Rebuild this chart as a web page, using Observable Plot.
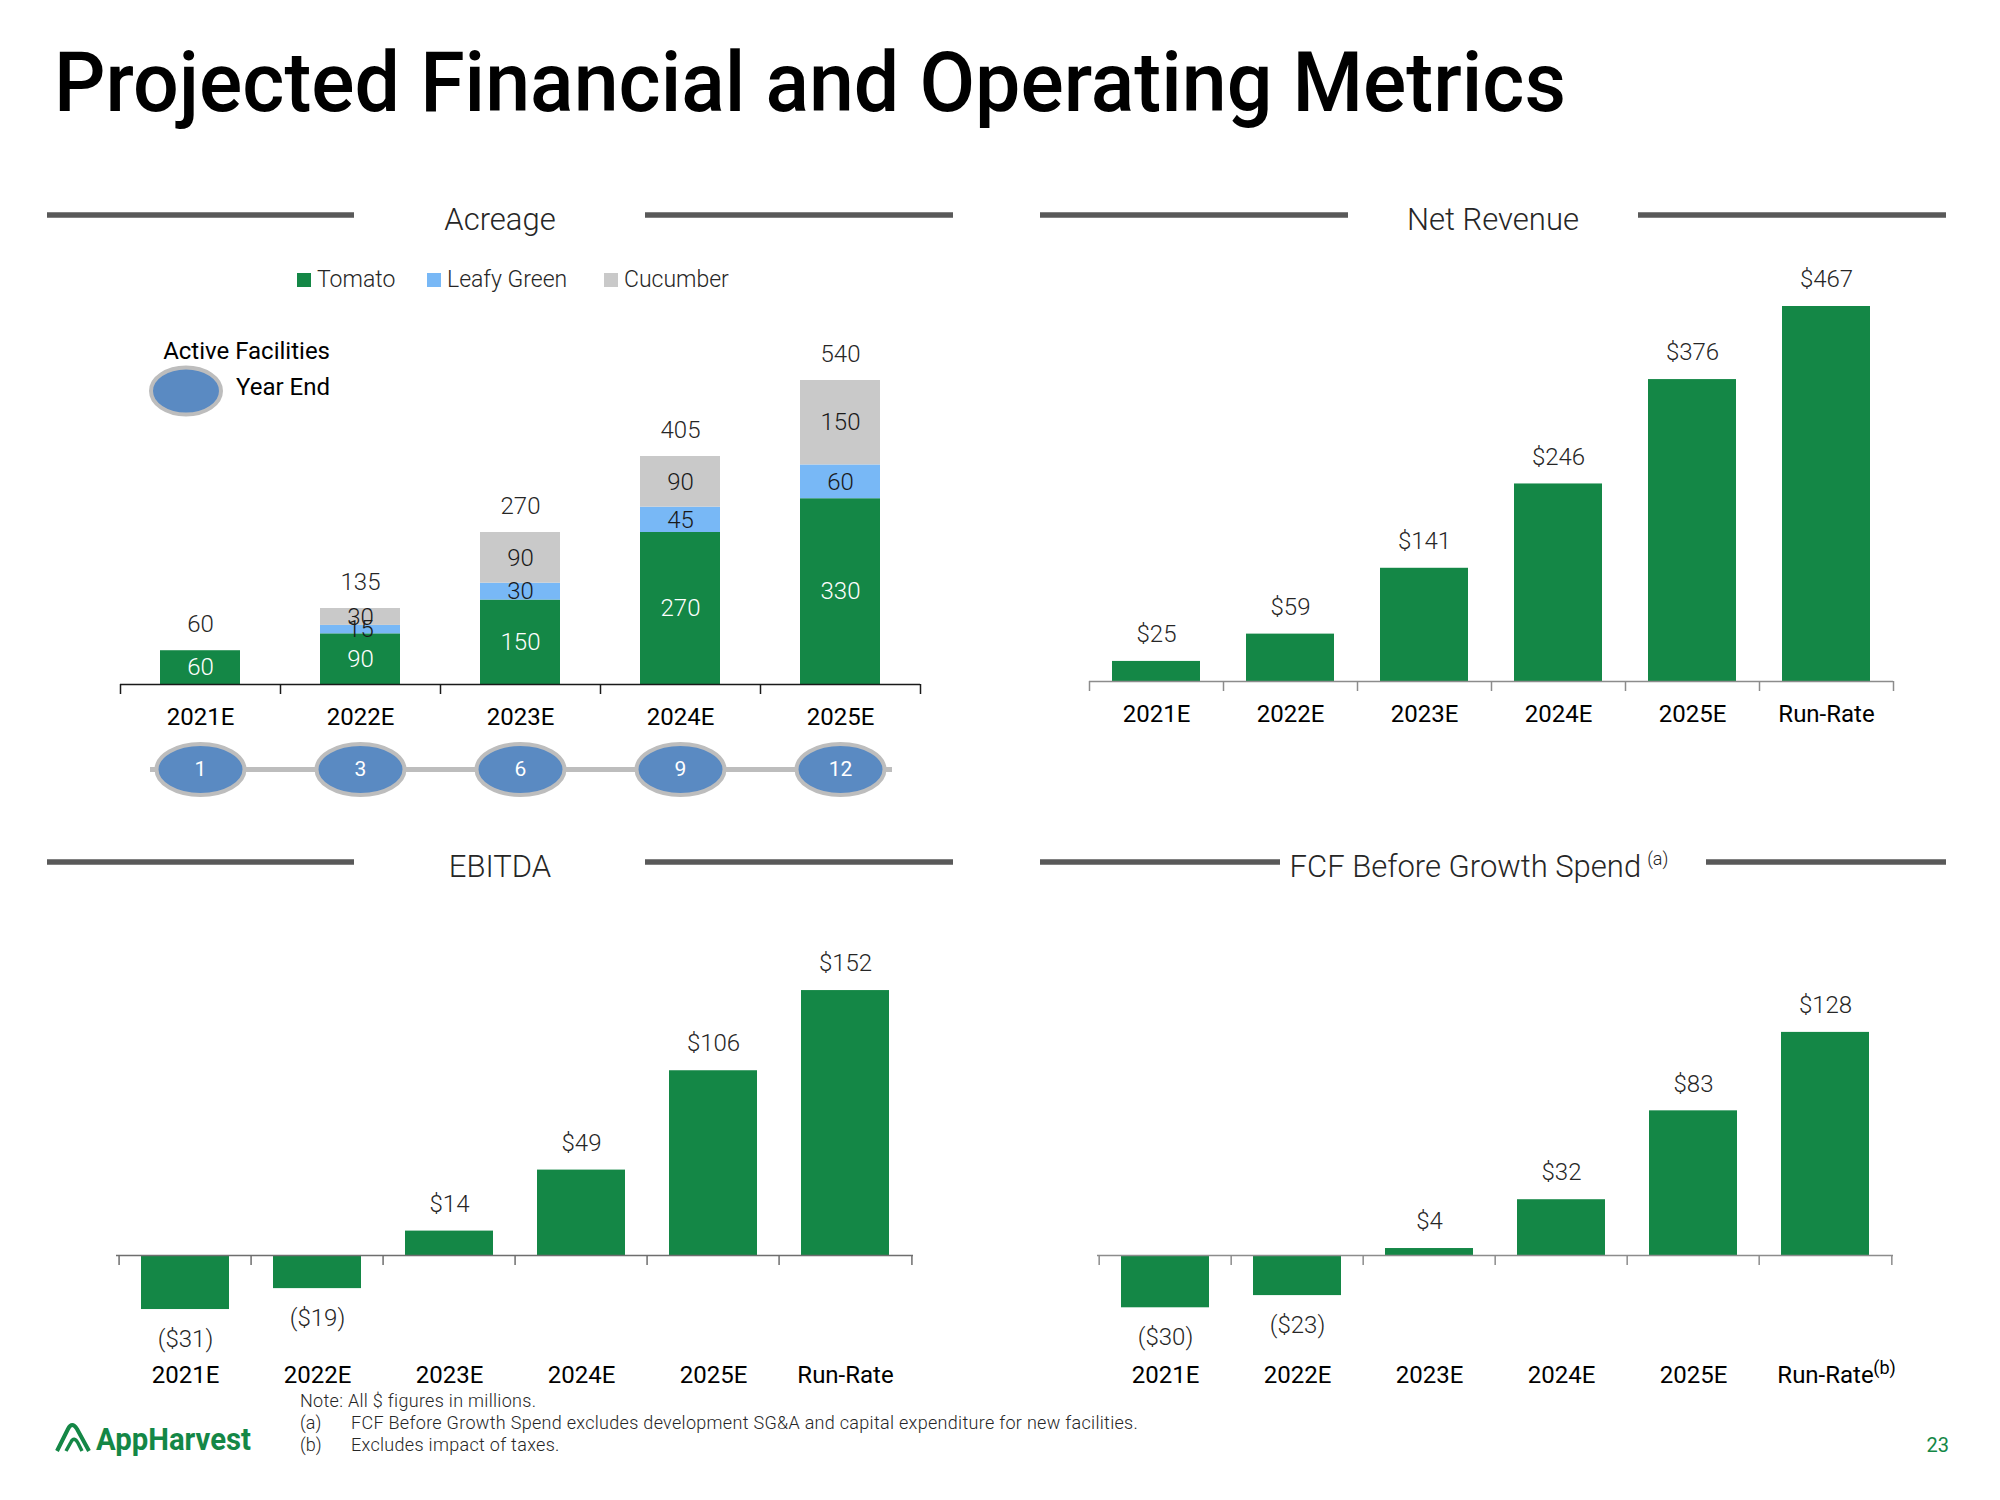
<!DOCTYPE html>
<html><head><meta charset="utf-8">
<script src="https://cdn.jsdelivr.net/npm/d3@7"></script>
<script src="https://cdn.jsdelivr.net/npm/@observablehq/plot@0.6"></script>
<style>
html,body{margin:0;padding:0;background:#fff}
#page{position:relative;width:2000px;height:1500px;overflow:hidden;font-family:Roboto,"Noto Sans",sans-serif;background:#fff}
.chart{position:absolute}
#deco{position:absolute;left:0;top:0}
</style></head>
<body><div id="page">
<div class="chart" id="acreage" style="left:0;top:240px;width:1000px"></div>
<div class="chart" id="revenue" style="left:1000px;top:240px;width:1000px"></div>
<div class="chart" id="ebitda" style="left:0;top:900px;width:1000px"></div>
<div class="chart" id="fcf" style="left:1000px;top:900px;width:1000px"></div>
<svg id="deco" width="2000" height="1500" font-family="Roboto, sans-serif"></svg>
</div>
<script>
// ---------- data ----------
const years = ["2021E", "2022E", "2023E", "2024E", "2025E"];
const crops = ["Tomato", "Leafy Green", "Cucumber"];
const tomato = [60, 90, 150, 270, 330];
const leafyGreen = [0, 15, 30, 45, 60];
const cucumber = [0, 30, 90, 90, 150];
const acreageTotals = [60, 135, 270, 405, 540];
const activeFacilities = [1, 3, 6, 9, 12];

const periods = ["2021E", "2022E", "2023E", "2024E", "2025E", "Run-Rate"];
const netRevenue = [25, 59, 141, 246, 376, 467];
const ebitda = [-31, -19, 14, 49, 106, 152];
const fcfBeforeGrowth = [-30, -23, 4, 32, 83, 128];

// ---------- styles ----------
const GREEN = "#148746";
const cropColors = ["#148746", "#78B8F6", "#C9C9C9"];
const ELLIPSE_FILL = "#5A8AC2";
const ELLIPSE_STROKE = "#BDBDBD";
const LABEL = "#262626";

const fmt = v => v < 0 ? `($${-v})` : `$${v}`;

const ellipseSymbol = {
  draw(ctx) {
    const rx = 44, ry = 25.5, k = 0.5523;
    ctx.moveTo(rx, 0);
    ctx.bezierCurveTo(rx, ry * k, rx * k, ry, 0, ry);
    ctx.bezierCurveTo(-rx * k, ry, -rx, ry * k, -rx, 0);
    ctx.bezierCurveTo(-rx, -ry * k, -rx * k, -ry, 0, -ry);
    ctx.bezierCurveTo(rx * k, -ry, rx, -ry * k, rx, 0);
    ctx.closePath();
  }
};

function boundaryTicks(cats, step, color) {
  return [
    Plot.ruleX(cats, {x: d => d, y1: 0, y2: 0, insetBottom: -10, dx: -step / 2, stroke: color, strokeWidth: 1.5}),
    Plot.ruleX(cats.slice(-1), {x: d => d, y1: 0, y2: 0, insetBottom: -10, dx: step / 2, stroke: color, strokeWidth: 1.5})
  ];
}

const baseStyle = {background: "transparent", overflow: "visible", fontFamily: "Roboto, sans-serif"};

// ---------- Acreage ----------
const cropSeries = [tomato, leafyGreen, cucumber];
const acreageRows = years.flatMap((year, i) => crops.map((crop, j) => ({year, crop, value: cropSeries[j][i]})));
const totalRows = years.map((year, i) => ({year, total: acreageTotals[i]}));
const facilityRows = years.map((year, i) => ({year, n: activeFacilities[i]}));

{
  const W = 1000, ml = 120, mr = 80;
  const step = (W - ml - mr) / years.length;
  const chart = Plot.plot({
    width: W, height: 560, marginLeft: ml, marginRight: mr, marginTop: 0, marginBottom: 0,
    x: {domain: years, paddingInner: 0.5, paddingOuter: 0.25, axis: null},
    y: {domain: [0, 540], range: [444, 140], axis: null},
    color: {domain: crops, range: cropColors},
    style: baseStyle,
    marks: [
      Plot.barY(acreageRows, {x: "year", y: "value", fill: "crop"}),
      Plot.ruleY([0], {stroke: "#1a1a1a", strokeWidth: 1.5}),
      ...boundaryTicks(years, step, "#1a1a1a"),
      Plot.text(acreageRows, Plot.stackY({x: "year", y: "value", z: "crop",
        text: d => d.crop === "Tomato" && d.value > 0 ? String(d.value) : "",
        fill: "#ffffff", fontSize: 24, fontWeight: 300})),
      Plot.text(acreageRows, Plot.stackY({x: "year", y: "value", z: "crop",
        text: d => d.crop !== "Tomato" && d.value > 0 ? String(d.value) : "",
        fill: "#1a1a1a", fontSize: 24, fontWeight: 300})),
      Plot.text(totalRows, {x: "year", y: "total", text: d => String(d.total), dy: -26, fill: LABEL, fontSize: 24, fontWeight: 300}),
      Plot.text(years, {x: d => d, y: 0, dy: 33, text: d => d, fill: "#000", fontSize: 24, fontWeight: 400}),
      Plot.ruleY([0], {dy: 85, insetLeft: 30, insetRight: 28, stroke: ELLIPSE_STROKE, strokeWidth: 5}),
      Plot.dot(facilityRows, {x: "year", y: 0, dy: 85, symbol: ellipseSymbol, r: 26, fill: ELLIPSE_FILL, stroke: ELLIPSE_STROKE, strokeWidth: 4}),
      Plot.text(facilityRows, {x: "year", y: 0, dy: 85, text: d => String(d.n), fill: "#fff", fontSize: 21, fontWeight: 400})
    ]
  });
  document.getElementById("acreage").append(chart);
}

// ---------- simple bar panels ----------
function barPanel(id, values, opts) {
  const rows = periods.map((period, i) => ({period, value: values[i]}));
  const W = 1000;
  const step = (W - opts.ml - opts.mr) / periods.length;
  const pi = opts.pad;
  const chart = Plot.plot({
    width: W, height: opts.height, marginLeft: opts.ml, marginRight: opts.mr, marginTop: 0, marginBottom: 0,
    x: {domain: periods, paddingInner: pi, paddingOuter: pi / 2, axis: null},
    y: {domain: [0, opts.max], range: [opts.axisY, opts.axisY - opts.max * opts.k], axis: null},
    style: baseStyle,
    marks: [
      Plot.barY(rows, {x: "period", y: "value", fill: GREEN}),
      Plot.ruleY([0], {stroke: opts.axisColor, strokeWidth: 1.5}),
      ...boundaryTicks(periods, step, opts.axisColor),
      Plot.text(rows, {filter: d => d.value >= 0, x: "period", y: "value", text: d => fmt(d.value), dy: -27, fill: LABEL, fontSize: 24, fontWeight: 300}),
      Plot.text(rows, {filter: d => d.value < 0, x: "period", y: "value", text: d => fmt(d.value), dy: 30, fill: LABEL, fontSize: 24, fontWeight: 300}),
      Plot.text(periods, {x: d => d, y: 0, dy: opts.labelDy, text: d => d, fill: "#000", fontSize: 24, fontWeight: 400}),
      ...(opts.extra || [])
    ]
  });
  document.getElementById(id).append(chart);
}

barPanel("revenue", netRevenue, {height: 560, ml: 89, mr: 107, pad: 0.34, max: 467, axisY: 441, k: 0.803, axisColor: "#8C8C8C", labelDy: 33});
barPanel("ebitda", ebitda, {height: 520, ml: 116, mr: 87, pad: 0.335, max: 152, axisY: 355, k: 1.743, axisColor: "#6E6E6E", labelDy: 120});
barPanel("fcf", fcfBeforeGrowth, {height: 520, ml: 97, mr: 107, pad: 0.335, max: 128, axisY: 355, k: 1.743, axisColor: "#8C8C8C", labelDy: 120,
  extra: [Plot.text(periods.slice(-1), {x: d => d, y: 0, dy: 113, dx: 59, text: () => "(b)", fill: "#000", fontSize: 18, fontWeight: 400})]});

// ---------- decoration (titles, headers, legends, notes) ----------
const svg = d3.select("#deco");
svg.append("text").attr("x", 54).attr("y", 111).attr("font-size", 84).attr("font-weight", 500)
  .attr("fill", "#000").attr("textLength", 1512).attr("lengthAdjust", "spacingAndGlyphs")
  .text("Projected Financial and Operating Metrics");

const headers = [
  {title: "Acreage", y: 215, l: [47, 354], r: [645, 953], cx: 500},
  {title: "Net Revenue", y: 215, l: [1040, 1348], r: [1638, 1946], cx: 1493},
  {title: "EBITDA", y: 862, l: [47, 354], r: [645, 953], cx: 500},
  {title: "FCF Before Growth Spend", y: 862, l: [1040, 1280], r: [1706, 1946], cx: 1479, sup: "(a)"}
];
for (const h of headers) {
  for (const [a, b] of [h.l, h.r]) {
    svg.append("line").attr("x1", a).attr("x2", b).attr("y1", h.y).attr("y2", h.y)
      .attr("stroke", "#595959").attr("stroke-width", 5.5);
  }
  const t = svg.append("text").attr("x", h.cx).attr("y", h.y + 15).attr("text-anchor", "middle")
    .attr("font-size", 31).attr("font-weight", 300).attr("fill", LABEL).text(h.title);
  if (h.sup) {
    t.append("tspan").attr("font-size", 18).attr("dx", 6).attr("dy", -12).text(h.sup);
  }
}

// crop legend
const legendX = [297, 427, 604];
crops.forEach((c, i) => {
  svg.append("rect").attr("x", legendX[i]).attr("y", 273).attr("width", 14).attr("height", 14).attr("fill", cropColors[i]);
  svg.append("text").attr("x", legendX[i] + 20).attr("y", 287).attr("font-size", 23).attr("font-weight", 300)
    .attr("fill", LABEL).text(c);
});

// Active facilities key
svg.append("text").attr("x", 330).attr("y", 359).attr("text-anchor", "end").attr("font-size", 24).attr("font-weight", 400).attr("fill", "#000").text("Active Facilities");
svg.append("ellipse").attr("cx", 186).attr("cy", 391).attr("rx", 35).attr("ry", 23.5)
  .attr("fill", ELLIPSE_FILL).attr("stroke", ELLIPSE_STROKE).attr("stroke-width", 4);
svg.append("text").attr("x", 330).attr("y", 395).attr("text-anchor", "end").attr("font-size", 24).attr("font-weight", 400).attr("fill", "#000").text("Year End");

// notes
const notes = [
  {k: "", t: "Note: All $ figures in millions.", y: 1407},
  {k: "(a)", t: "FCF Before Growth Spend excludes development SG&A and capital expenditure for new facilities.", y: 1429},
  {k: "(b)", t: "Excludes impact of taxes.", y: 1451}
];
for (const n of notes) {
  if (n.k) {
    svg.append("text").attr("x", 300).attr("y", n.y).attr("font-size", 18).attr("font-weight", 300).attr("fill", LABEL).text(n.k);
    svg.append("text").attr("x", 351).attr("y", n.y).attr("font-size", 18).attr("font-weight", 300).attr("fill", LABEL)
      .attr("letter-spacing", 0.3).text(n.t);
  } else {
    svg.append("text").attr("x", 300).attr("y", n.y).attr("font-size", 18).attr("font-weight", 300).attr("fill", LABEL)
      .attr("letter-spacing", 0.3).text(n.t);
  }
}

// logo
svg.append("path").attr("d", "M57,1451 L68,1429 Q72,1421 77,1429 L89,1451")
  .attr("fill", "none").attr("stroke", GREEN).attr("stroke-width", 4).attr("stroke-linejoin", "round");
svg.append("path").attr("d", "M66,1451 L71,1442 Q74,1436 78,1443 L82,1451")
  .attr("fill", "none").attr("stroke", GREEN).attr("stroke-width", 3.5);
svg.append("text").attr("x", 96).attr("y", 1450).attr("font-size", 31).attr("font-weight", 700)
  .attr("fill", GREEN).attr("textLength", 155).attr("lengthAdjust", "spacingAndGlyphs").text("AppHarvest");

// page number
svg.append("text").attr("x", 1949).attr("y", 1452).attr("text-anchor", "end").attr("font-size", 20)
  .attr("fill", GREEN).text("23");
</script>
</body></html>
